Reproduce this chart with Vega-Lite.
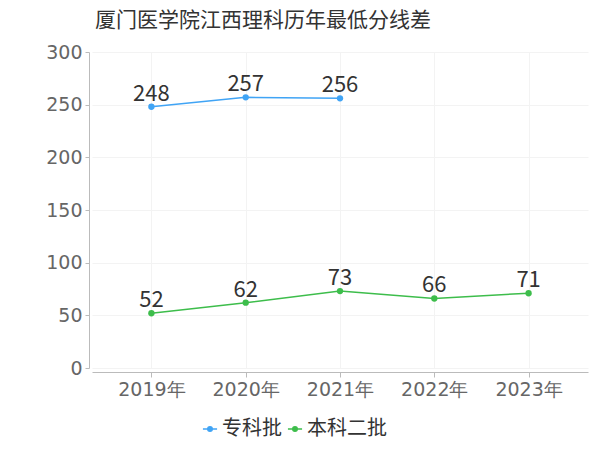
{
  "$schema": "https://vega.github.io/schema/vega-lite/v6.json",
  "autosize": "none",
  "width": 496,
  "height": 316,
  "padding": {"left": 92, "top": 52, "right": 12, "bottom": 82},
  "background": "white",
  "title": {
    "text": "厦门医学院江西理科历年最低分线差",
    "anchor": "start",
    "frame": "group",
    "dx": 3,
    "offset": 12,
    "fontSize": 21,
    "font": "Noto Sans CJK SC",
    "fontWeight": "normal",
    "color": "#333333"
  },
  "config": {
    "view": {"stroke": null},
    "font": "Noto Sans CJK SC"
  },
  "data": {
    "values": [
      {"year": "2019年", "series": "专科批", "value": 248},
      {"year": "2020年", "series": "专科批", "value": 257},
      {"year": "2021年", "series": "专科批", "value": 256},
      {"year": "2019年", "series": "本科二批", "value": 52},
      {"year": "2020年", "series": "本科二批", "value": 62},
      {"year": "2021年", "series": "本科二批", "value": 73},
      {"year": "2022年", "series": "本科二批", "value": 66},
      {"year": "2023年", "series": "本科二批", "value": 71}
    ]
  },
  "encoding": {
    "x": {
      "field": "year",
      "type": "ordinal",
      "sort": ["2019年", "2020年", "2021年", "2022年", "2023年"],
      "scale": {"type": "point", "padding": 0.63},
      "axis": {
        "title": null,
        "labelAngle": 0,
        "labelFontSize": 19,
        "labelFont": "DejaVu Sans",
        "labelColor": "#666666",
        "labelPadding": 3,
        "domainColor": "#bbbbbb",
        "tickColor": "#bbbbbb",
        "tickSize": 5,
        "offset": 4,
        "grid": true,
        "gridColor": "#f3f3f3"
      }
    },
    "y": {
      "field": "value",
      "type": "quantitative",
      "scale": {"domain": [0, 300], "nice": false},
      "axis": {
        "title": null,
        "values": [0, 50, 100, 150, 200, 250, 300],
        "labelFontSize": 19,
        "labelFont": "DejaVu Sans",
        "labelColor": "#666666",
        "labelPadding": 3,
        "domainColor": "#bbbbbb",
        "tickColor": "#bbbbbb",
        "tickSize": 4,
        "offset": 3,
        "grid": true,
        "gridColor": "#f3f3f3"
      }
    },
    "color": {
      "field": "series",
      "type": "nominal",
      "scale": {"domain": ["专科批", "本科二批"], "range": ["#40a4f5", "#3dbd4b"]},
      "legend": {
        "title": null,
        "orient": "none",
        "legendX": 108,
        "legendY": 367,
        "direction": "horizontal",
        "labelFontSize": 20,
        "labelColor": "#333333",
        "labelFont": "Noto Sans CJK SC",
        "symbolType": "M-1,0H1M-0.32,0A0.32,0.32 0 1,0 0.32,0A0.32,0.32 0 1,0 -0.32,0",
        "symbolSize": 200,
        "symbolStrokeWidth": 1.5,
        "columnPadding": 2,
        "labelOffset": 2
      }
    }
  },
  "layer": [
    {"mark": {"type": "line", "strokeWidth": 1.5}},
    {"mark": {"type": "point", "filled": true, "size": 40, "opacity": 1}},
    {
      "mark": {"type": "text", "dy": -13, "fontSize": 22, "font": "Noto Sans CJK SC", "color": "#333333"},
      "encoding": {"text": {"field": "value", "type": "quantitative"}, "color": {"value": "#333333"}}
    }
  ]
}
